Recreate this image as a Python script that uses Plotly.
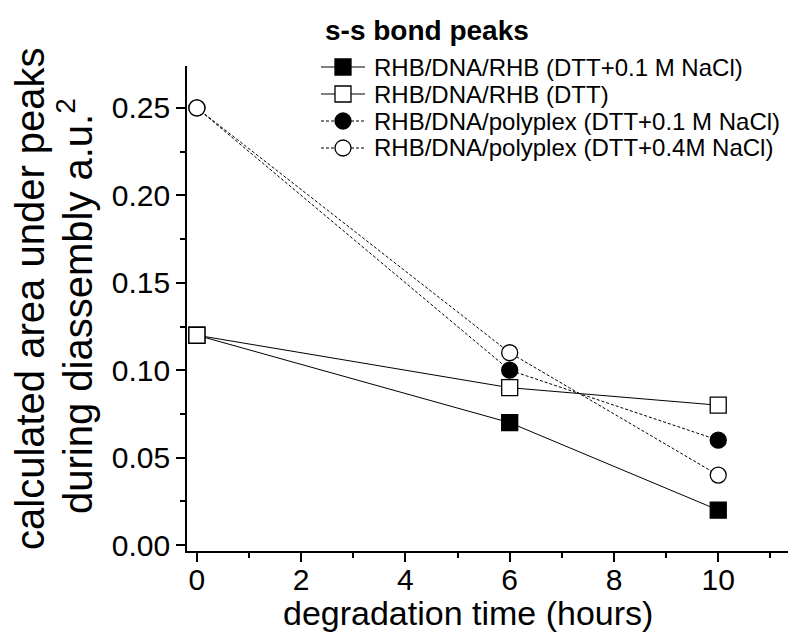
import plotly.graph_objects as go

hours = [0, 6, 10]
rhb_dtt_nacl01 = [0.12, 0.07, 0.02]
rhb_dtt = [0.12, 0.09, 0.08]
poly_nacl01 = [0.25, 0.10, 0.06]
poly_nacl04 = [0.25, 0.11, 0.04]

names = [
    "RHB/DNA/RHB (DTT+0.1 M NaCl)",
    "RHB/DNA/RHB (DTT)",
    "RHB/DNA/polyplex (DTT+0.1 M NaCl)",
    "RHB/DNA/polyplex (DTT+0.4M NaCl)",
]
legend_title = "s-s bond peaks"
x_title = "degradation time (hours)"
y_title_lines = ["calculated area under peaks", "during diassembly a.u.<sup>2</sup>"]
x_ticks = [0, 2, 4, 6, 8, 10]
y_ticks = [0, 0.05, 0.10, 0.15, 0.20, 0.25]
y_ticktext = ["0.00", "0.05", "0.10", "0.15", "0.20", "0.25"]

series = [rhb_dtt_nacl01, rhb_dtt, poly_nacl01, poly_nacl04]
symbols = ["square", "square", "circle", "circle"]
fills = ["black", "white", "black", "white"]
dashes = ["solid", "solid", "3px,2px", "3px,2px"]

W, H = 796, 637
L, R, T, B = 179, 6, 58, 94
PW, PH = W - L - R, H - T - B


def xp(px):
    return (px - L) / PW


def yp(py):
    return (H - B - py) / PH


FONT = "Liberation Sans, Arial, Helvetica, sans-serif"

fig = go.Figure()
for n, s, sym, f, d in zip(names, series, symbols, fills, dashes):
    fig.add_trace(go.Scatter(
        x=hours, y=s, name=n, mode="lines+markers", showlegend=False,
        line=dict(color="black", width=1, dash=d),
        marker=dict(symbol=sym, size=16, color=f,
                    line=dict(color="black", width=1.3)),
    ))

shapes = []
annotations = [dict(
    text="<b>" + legend_title + "</b>", xref="paper", yref="paper",
    x=xp(315), y=yp(22), xanchor="left", yanchor="middle", showarrow=False,
    font=dict(size=28, family=FONT, color="black"),
)]
row_y = [59, 86, 113, 140]
for n, sym, f, d, ry in zip(names, symbols, fills, dashes, row_y):
    shapes.append(dict(type="line", xref="paper", yref="paper",
                       x0=xp(313), x1=xp(357), y0=yp(ry), y1=yp(ry),
                       line=dict(color="black", width=1, dash=d)))
    shapes.append(dict(type="rect" if sym == "square" else "circle",
                       xref="paper", yref="paper",
                       xsizemode="pixel", ysizemode="pixel",
                       xanchor=xp(335), yanchor=yp(ry),
                       x0=-8, x1=8, y0=-8, y1=8,
                       fillcolor=f, line=dict(color="black", width=1.3)))
    annotations.append(dict(
        text=n, xref="paper", yref="paper", x=xp(364), y=yp(ry),
        xanchor="left", yanchor="middle", showarrow=False,
        font=dict(size=24, family=FONT, color="black"),
    ))

# axis titles
annotations.append(dict(
    text=x_title, xref="paper", yref="paper", x=xp(460), y=yp(605),
    xanchor="center", yanchor="middle", showarrow=False,
    font=dict(size=34, family=FONT, color="black"),
))
for line, cx, cy in zip(y_title_lines, [22, 67], [291, 298]):
    annotations.append(dict(
        text=line, xref="paper", yref="paper", x=xp(cx), y=yp(cy),
        xanchor="center", yanchor="middle", showarrow=False, textangle=-90,
        font=dict(size=40, family=FONT, color="black"),
    ))

fig.update_layout(
    width=W, height=H,
    paper_bgcolor="white", plot_bgcolor="white",
    margin=dict(l=L, r=R, t=T, b=B),
    font=dict(family=FONT, color="black"),
    showlegend=False,
    shapes=shapes,
    annotations=annotations,
    xaxis=dict(
        range=[-0.19, 11.53], showgrid=False, zeroline=False,
        showline=True, linecolor="black", linewidth=1.6,
        ticks="outside", ticklen=9, tickwidth=1.5, tickcolor="black",
        tickvals=x_ticks, ticklabelstandoff=-8,
        minor=dict(ticks="outside", ticklen=5, tickwidth=1.5, tickcolor="black", dtick=1, tick0=0),
        tickfont=dict(size=30),
    ),
    yaxis=dict(
        range=[-0.0034, 0.274], showgrid=False, zeroline=False,
        showline=True, linecolor="black", linewidth=1.6,
        ticks="outside", ticklen=9, tickwidth=1.5, tickcolor="black",
        tickvals=y_ticks, ticktext=y_ticktext,
        minor=dict(ticks="outside", ticklen=5, tickwidth=1.5, tickcolor="black", dtick=0.025, tick0=0),
        tickfont=dict(size=30),
    ),
)

fig.write_html("out.html")
